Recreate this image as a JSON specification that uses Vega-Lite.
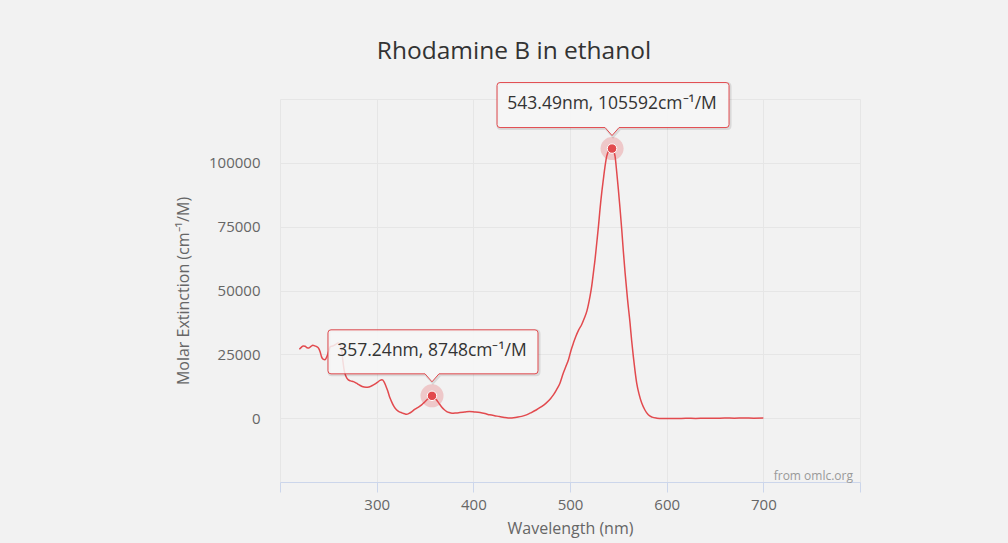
{
  "$schema": "https://vega.github.io/schema/vega-lite/v6.json",
  "width": 580,
  "height": 383,
  "autosize": {"type": "none"},
  "padding": {"left": 280, "top": 99, "right": 148, "bottom": 61},
  "background": "#f2f2f2",
  "title": {"text": "Rhodamine B in ethanol", "font": "Open Sans", "fontSize": 24.5, "fontWeight": "normal", "color": "#333333", "anchor": "middle", "dx": -56, "offset": 13},
  "config": {"font": "Open Sans", "view": {"stroke": null}},
  "datasets": {
    "spectrum": [
      {"nm": 220, "value": 27000}, {"nm": 222, "value": 27700}, {"nm": 224, "value": 28300}, {"nm": 226, "value": 28200},
      {"nm": 228, "value": 27600}, {"nm": 230, "value": 27500}, {"nm": 232, "value": 28100}, {"nm": 234, "value": 28600},
      {"nm": 236, "value": 28300}, {"nm": 238, "value": 28000}, {"nm": 240, "value": 27300}, {"nm": 241.5, "value": 26000},
      {"nm": 243, "value": 24000}, {"nm": 244.5, "value": 23100}, {"nm": 246.5, "value": 22900}, {"nm": 248.5, "value": 24100},
      {"nm": 250.5, "value": 26400}, {"nm": 252, "value": 28000}, {"nm": 254, "value": 28200}, {"nm": 256, "value": 28500},
      {"nm": 258, "value": 29000}, {"nm": 260, "value": 29400}, {"nm": 262, "value": 28700}, {"nm": 263.5, "value": 27500},
      {"nm": 265, "value": 22500}, {"nm": 266.5, "value": 18500}, {"nm": 268.3, "value": 16300}, {"nm": 270.7, "value": 15000},
      {"nm": 273, "value": 14600}, {"nm": 276, "value": 14300}, {"nm": 279, "value": 13700}, {"nm": 282, "value": 13000},
      {"nm": 285, "value": 12400}, {"nm": 289, "value": 12100}, {"nm": 292, "value": 12200}, {"nm": 295, "value": 12700},
      {"nm": 298, "value": 13300}, {"nm": 301, "value": 14100}, {"nm": 303.5, "value": 14800}, {"nm": 305.5, "value": 15000},
      {"nm": 307.5, "value": 14300}, {"nm": 309.5, "value": 12600}, {"nm": 311.5, "value": 10600}, {"nm": 313.5, "value": 8200},
      {"nm": 315.5, "value": 6400}, {"nm": 318, "value": 4500}, {"nm": 320.5, "value": 3300}, {"nm": 323, "value": 2600},
      {"nm": 326, "value": 2100}, {"nm": 329, "value": 1700}, {"nm": 331, "value": 1550}, {"nm": 333.5, "value": 1900},
      {"nm": 336.5, "value": 2600}, {"nm": 339, "value": 3300}, {"nm": 341.5, "value": 3900}, {"nm": 344, "value": 4500},
      {"nm": 346.5, "value": 5200}, {"nm": 349, "value": 6100}, {"nm": 352, "value": 7200}, {"nm": 355, "value": 8200},
      {"nm": 357.24, "value": 8748}, {"nm": 359.5, "value": 8200}, {"nm": 361.8, "value": 7200}, {"nm": 364.5, "value": 5800},
      {"nm": 367, "value": 4500}, {"nm": 370, "value": 3300}, {"nm": 372.5, "value": 2600}, {"nm": 375, "value": 2200},
      {"nm": 378, "value": 1950}, {"nm": 382, "value": 2050}, {"nm": 386, "value": 2200}, {"nm": 391, "value": 2400},
      {"nm": 396, "value": 2600}, {"nm": 401, "value": 2450}, {"nm": 407, "value": 2200}, {"nm": 412, "value": 1800},
      {"nm": 417, "value": 1300}, {"nm": 422, "value": 950}, {"nm": 427, "value": 650}, {"nm": 432, "value": 300},
      {"nm": 436, "value": 100}, {"nm": 440, "value": 50}, {"nm": 445, "value": 350}, {"nm": 450, "value": 700},
      {"nm": 455, "value": 1300}, {"nm": 460, "value": 2200}, {"nm": 465, "value": 3200}, {"nm": 470, "value": 4400},
      {"nm": 475, "value": 5800}, {"nm": 480, "value": 7700}, {"nm": 483, "value": 9200}, {"nm": 486, "value": 11100},
      {"nm": 489.5, "value": 13600}, {"nm": 493, "value": 17600}, {"nm": 496, "value": 20500}, {"nm": 498.5, "value": 23000},
      {"nm": 501, "value": 26500}, {"nm": 503.5, "value": 29400}, {"nm": 506, "value": 32000}, {"nm": 509, "value": 34600},
      {"nm": 512, "value": 36600}, {"nm": 515, "value": 39300}, {"nm": 517.5, "value": 42000}, {"nm": 520.5, "value": 47300},
      {"nm": 522.5, "value": 51800}, {"nm": 524.2, "value": 56900}, {"nm": 526, "value": 62500}, {"nm": 527.7, "value": 68700},
      {"nm": 529.5, "value": 75400}, {"nm": 531, "value": 81700}, {"nm": 533, "value": 88900}, {"nm": 534.5, "value": 93500},
      {"nm": 536.2, "value": 98500}, {"nm": 538, "value": 102600}, {"nm": 540, "value": 104800}, {"nm": 541.8, "value": 105500},
      {"nm": 543.49, "value": 105592}, {"nm": 545, "value": 104600}, {"nm": 546.6, "value": 102600}, {"nm": 548.3, "value": 96500},
      {"nm": 550, "value": 89700}, {"nm": 551.8, "value": 81900}, {"nm": 553.5, "value": 74000}, {"nm": 555.2, "value": 65300},
      {"nm": 557, "value": 56900}, {"nm": 559.5, "value": 46600}, {"nm": 562.1, "value": 37300}, {"nm": 563.8, "value": 30300},
      {"nm": 565.5, "value": 24200}, {"nm": 567.2, "value": 18700}, {"nm": 569, "value": 13700}, {"nm": 571.5, "value": 9300},
      {"nm": 574.2, "value": 5900}, {"nm": 577.5, "value": 3200}, {"nm": 581, "value": 1300}, {"nm": 585, "value": 400},
      {"nm": 590, "value": 0}, {"nm": 595, "value": -150}, {"nm": 600, "value": -100}, {"nm": 610, "value": -150},
      {"nm": 620, "value": -50}, {"nm": 630, "value": -100}, {"nm": 640, "value": 0}, {"nm": 650, "value": -50},
      {"nm": 660, "value": 50}, {"nm": 670, "value": 0}, {"nm": 680, "value": 50}, {"nm": 690, "value": 0}, {"nm": 700, "value": 50}
    ],
    "peaks": [
      {"nm": 357.24, "value": 8748, "label": "357.24nm, 8748cm\u207b\u00b9/M", "id": "a"},
      {"nm": 543.49, "value": 105592, "label": "543.49nm, 105592cm\u207b\u00b9/M", "id": "b"}
    ],
    "credits": [{"credit": "from omlc.org"}]
  },
  "encoding": {
    "x": {
      "field": "nm", "type": "quantitative",
      "scale": {"domain": [200, 800], "nice": false, "zero": false},
      "axis": {
        "title": "Wavelength (nm)",
        "values": [200, 300, 400, 500, 600, 700, 800],
        "labelExpr": "datum.value == 200 || datum.value == 800 ? '' : datum.label",
        "format": "d",
        "grid": true, "gridColor": "#e6e6e6", "gridWidth": 1,
        "domainColor": "#ccd6eb", "domainWidth": 1,
        "tickColor": "#ccd6eb", "tickSize": 10, "tickWidth": 1,
        "labelFont": "Open Sans", "labelFontSize": 15, "labelColor": "#666666", "labelPadding": 5,
        "titleFont": "Open Sans", "titleFontSize": 16, "titleColor": "#666666", "titleFontWeight": "normal", "titlePadding": 8
      }
    },
    "y": {
      "field": "value", "type": "quantitative",
      "scale": {"domain": [-25000, 125000], "nice": false, "zero": false},
      "axis": {
        "title": "Molar Extinction (cm\u207b\u00b9/M)",
        "values": [-25000, 0, 25000, 50000, 75000, 100000, 125000],
        "labelExpr": "datum.value == -25000 || datum.value == 125000 ? '' : datum.label",
        "format": "d",
        "grid": true, "gridColor": "#e6e6e6", "gridWidth": 1,
        "domain": false, "ticks": false,
        "labelFont": "Open Sans", "labelFontSize": 15, "labelColor": "#666666", "labelPadding": 20,
        "titleFont": "Open Sans", "titleFontSize": 16, "titleColor": "#666666", "titleFontWeight": "normal", "titlePadding": 17
      }
    }
  },
  "layer": [
    {
      "data": {"name": "spectrum"},
      "mark": {"type": "line", "color": "#e24a4e", "strokeWidth": 1.5, "interpolate": "monotone"}
    },
    {
      "data": {"name": "peaks"},
      "mark": {"type": "point", "shape": "circle", "size": 530, "filled": true, "fill": "#e24a4e", "opacity": 0.25, "strokeWidth": 0}
    },
    {
      "data": {"name": "peaks"},
      "mark": {"type": "point", "shape": "circle", "size": 90, "filled": true, "fill": "#e24a4e", "stroke": "#ffffff", "strokeWidth": 1, "opacity": 1}
    },
    {
      "data": {"name": "peaks"},
      "transform": [{"filter": "datum.id == 'a'"}],
      "mark": {"type": "point", "size": 4, "filled": false, "fill": null, "stroke": "#000000", "strokeOpacity": 0.1, "strokeWidth": 3, "opacity": 1,
        "shape": "M-100,-65 H104 Q107,-65 107,-62 V-24 Q107,-21 104,-21 H8 L1,-13 L-6,-21 H-100 Q-103,-21 -103,-24 V-62 Q-103,-65 -100,-65 Z"}
    },
    {
      "data": {"name": "peaks"},
      "transform": [{"filter": "datum.id == 'a'"}],
      "mark": {"type": "point", "size": 4, "filled": true, "fill": "#f7f7f7", "fillOpacity": 0.85, "stroke": "#e24a4e", "strokeWidth": 1, "opacity": 1,
        "shape": "M-101,-66 H103 Q106,-66 106,-63 V-25 Q106,-22 103,-22 H7 L0,-14 L-7,-22 H-101 Q-104,-22 -104,-25 V-63 Q-104,-66 -101,-66 Z"}
    },
    {
      "data": {"name": "peaks"},
      "transform": [{"filter": "datum.id == 'b'"}],
      "mark": {"type": "point", "size": 4, "filled": false, "fill": null, "stroke": "#000000", "strokeOpacity": 0.1, "strokeWidth": 3, "opacity": 1,
        "shape": "M-111,-65 H115 Q118,-65 118,-62 V-23 Q118,-20 115,-20 H8 L1,-12 L-6,-20 H-111 Q-114,-20 -114,-23 V-62 Q-114,-65 -111,-65 Z"}
    },
    {
      "data": {"name": "peaks"},
      "transform": [{"filter": "datum.id == 'b'"}],
      "mark": {"type": "point", "size": 4, "filled": true, "fill": "#f7f7f7", "fillOpacity": 0.85, "stroke": "#e24a4e", "strokeWidth": 1, "opacity": 1,
        "shape": "M-112,-66 H114 Q117,-66 117,-63 V-24 Q117,-21 114,-21 H7 L0,-13 L-7,-21 H-112 Q-115,-21 -115,-24 V-63 Q-115,-66 -112,-66 Z"}
    },
    {
      "data": {"name": "peaks"},
      "mark": {"type": "text", "font": "Open Sans", "fontSize": 17.5, "color": "#333333", "align": "center", "baseline": "middle", "dy": -45},
      "encoding": {"text": {"field": "label"}}
    },
    {
      "data": {"name": "credits"},
      "mark": {"type": "text", "font": "Open Sans", "fontSize": 12, "color": "#999999", "align": "right", "baseline": "alphabetic", "dx": -7, "dy": -2},
      "encoding": {"x": {"value": "width"}, "y": {"value": "height"}, "text": {"field": "credit"}}
    }
  ]
}
